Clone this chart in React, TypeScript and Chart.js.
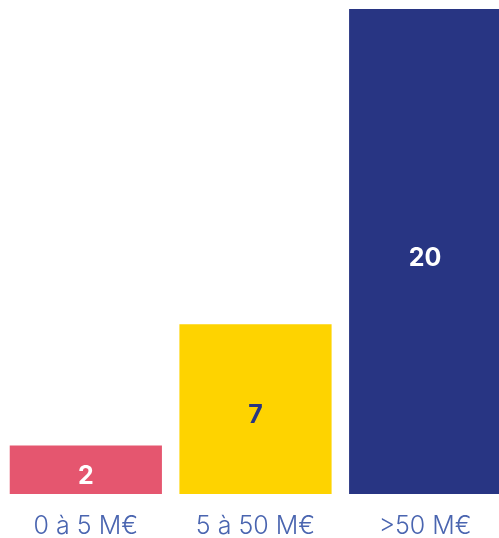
import React, { useEffect, useRef } from "react";
import { Chart, registerables } from "chart.js";

Chart.register(...registerables);

const categories = ["0 à 5 M€", "5 à 50 M€", ">50 M€"];
const values = [2, 7, 20];
const barColors = ["#E5566F", "#FED300", "#283583"];
const valueLabelColors = ["#FFFFFF", "#283583", "#FFFFFF"];

const valueLabelPlugin = {
  id: "valueLabels",
  afterDatasetsDraw(chart: any) {
    const ctx = chart.ctx;
    const meta = chart.getDatasetMeta(0);
    ctx.save();
    ctx.font = "bold 25px Inter, 'Noto Sans', sans-serif";
    ctx.textAlign = "center";
    ctx.textBaseline = "alphabetic";
    meta.data.forEach((bar: any, i: number) => {
      const props = bar.getProps(["x", "y", "base"], true);
      const cy = (props.y + props.base) / 2;
      ctx.fillStyle = valueLabelColors[i];
      ctx.fillText(String(values[i]), props.x, cy + 14);
    });
    ctx.restore();
  },
};

export default function App() {
  const canvasRef = useRef<HTMLCanvasElement | null>(null);

  useEffect(() => {
    if (!canvasRef.current) return;
    const chart = new Chart(canvasRef.current, {
      type: "bar",
      data: {
        labels: categories,
        datasets: [
          {
            data: values,
            backgroundColor: barColors,
            borderWidth: 0,
            categoryPercentage: 1,
            barPercentage: 0.897,
          },
        ],
      },
      options: {
        animation: false,
        responsive: false,
        maintainAspectRatio: false,
        layout: { padding: { left: 1, right: 0, top: 9, bottom: 0 } },
        plugins: {
          legend: { display: false },
          tooltip: { enabled: false },
        },
        scales: {
          x: {
            grid: { display: false, drawTicks: false },
            border: { display: false },
            ticks: {
              color: "#4A65B0",
              font: { family: "Inter, 'Noto Sans', sans-serif", size: 25, weight: "300" as any },
              padding: 17.5,
            },
          },
          y: {
            display: false,
            min: 0,
            max: 20,
          },
        },
      },
      plugins: [valueLabelPlugin],
    });
    return () => chart.destroy();
  }, []);

  return (
    <div
      style={{
        position: "fixed",
        left: 0,
        top: 0,
        width: 499,
        height: 538,
        overflow: "hidden",
        background: "#FFFFFF",
      }}
    >
      <canvas ref={canvasRef} width={510} height={559} style={{ display: "block" }} />
    </div>
  );
}
